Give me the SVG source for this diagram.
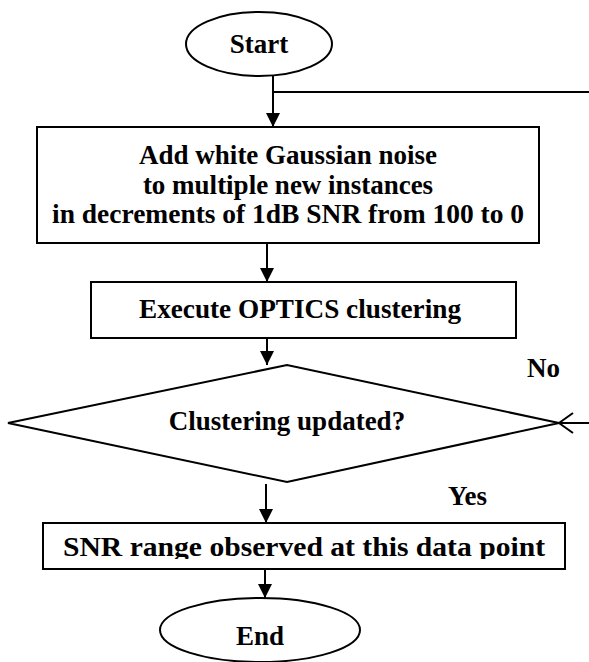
<svg xmlns="http://www.w3.org/2000/svg" width="589" height="662" viewBox="0 0 589 662">
<style>
  .shape { fill: #ffffff; stroke: #000000; stroke-width: 2; }
  .line { fill: none; stroke: #000000; stroke-width: 2; }
  .lbl { font-family: "Liberation Serif", "Times New Roman", serif; font-weight: bold; font-size: 27px; fill: #000000; text-anchor: middle; }
  .lblL { font-family: "Liberation Serif", "Times New Roman", serif; font-weight: bold; font-size: 27px; fill: #000000; }
</style>
<defs>
  <marker id="arrow" viewBox="0 0 14 14" refX="14" refY="7" markerWidth="14" markerHeight="14" markerUnits="userSpaceOnUse" orient="auto">
    <path d="M0,0 L14,7 L0,14 Z" fill="#000000"/>
  </marker>
  <clipPath id="clip3">
    <rect x="43" y="523" width="522" height="36"/>
  </clipPath>
</defs>
<rect width="589" height="662" fill="#ffffff"/>

<g id="connectors">
  <line class="line" x1="273" y1="76" x2="273" y2="127" marker-end="url(#arrow)"/>
  <line class="line" x1="273" y1="92" x2="589" y2="92"/>
  <line class="line" x1="267" y1="243" x2="267" y2="282" marker-end="url(#arrow)"/>
  <line class="line" x1="267" y1="338" x2="267" y2="365" marker-end="url(#arrow)"/>
  <line class="line" x1="266" y1="484" x2="266" y2="523" marker-end="url(#arrow)"/>
  <line class="line" x1="265" y1="569" x2="265" y2="598" marker-end="url(#arrow)"/>
  <line class="line" x1="589" y1="423" x2="559" y2="423"/>
  <path class="line" d="M573,413 L559,423 L573,433"/>
  <text id="label-no" class="lblL" x="527" y="377">No</text>
  <text id="label-yes" class="lblL" x="448" y="505">Yes</text>
</g>

<g id="start">
  <ellipse class="shape" cx="259" cy="44" rx="73" ry="32"/>
  <text class="lbl" x="259" y="53">Start</text>
</g>

<g id="add-noise">
  <rect class="shape" x="37" y="127" width="502" height="116"/>
  <text class="lbl" x="288" y="164">Add white Gaussian noise</text>
  <text class="lbl" x="288" y="194">to multiple new instances</text>
  <text class="lbl" x="288" y="223" textLength="472" lengthAdjust="spacingAndGlyphs">in decrements of 1dB SNR from 100 to 0</text>
</g>

<g id="optics">
  <rect class="shape" x="91" y="282" width="425" height="56"/>
  <text class="lbl" x="300" y="318" textLength="322" lengthAdjust="spacingAndGlyphs">Execute OPTICS clustering</text>
</g>

<g id="decision">
  <polygon class="shape" points="8,423 287,365 559,423 287,482"/>
  <text class="lbl" x="287" y="430">Clustering updated?</text>
</g>

<g id="snr-range">
  <rect class="shape" x="43" y="523" width="522" height="46"/>
  <text class="lbl" x="304" y="556" textLength="482" lengthAdjust="spacingAndGlyphs" clip-path="url(#clip3)">SNR range observed at this data point</text>
</g>

<g id="end">
  <ellipse class="shape" cx="260" cy="630" rx="100" ry="32"/>
  <text class="lbl" x="260" y="645">End</text>
</g>
</svg>
